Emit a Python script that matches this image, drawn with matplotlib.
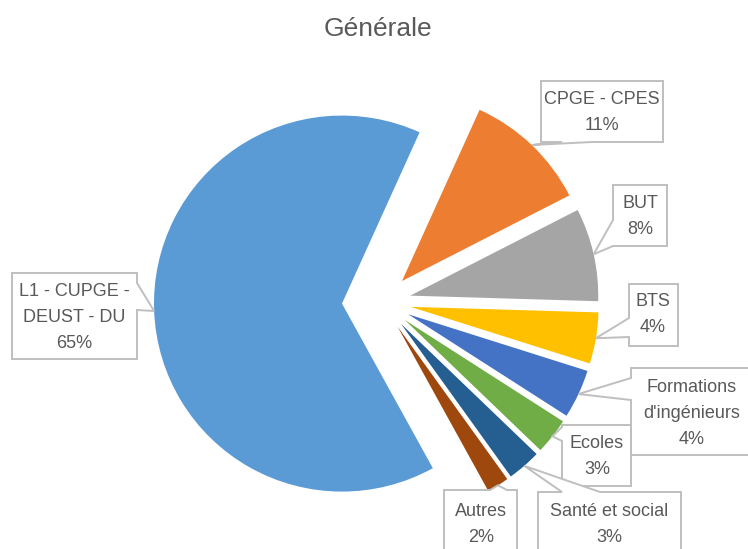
import numpy as np
import matplotlib
matplotlib.use("Agg")
import matplotlib.pyplot as plt
from matplotlib.patches import Polygon

plt.rcParams["font.family"] = ["Liberation Sans", "DejaVu Sans"]

# data (shares in %)
categories = ["L1 - CUPGE -\nDEUST - DU", "CPGE - CPES", "BUT", "BTS",
              "Formations\nd'ingénieurs", "Ecoles", "Santé et social", "Autres"]
values = [64.8, 10.7, 8.0, 4.4, 4.2, 3.1, 2.9, 1.9]
colors = ["#5B9BD5", "#ED7D31", "#A5A5A5", "#FFC000",
          "#4472C4", "#70AD47", "#255E91", "#9E480E"]
explode = [0.213, 0.154, 0.154, 0.154, 0.154, 0.154, 0.154, 0.154]  # fraction of radius

# callout layout in pixels (y down): box, pointer side, pointer base, text centre
layout = [
    ((12, 273, 137, 359), "right", (283, 310), (74, 317)),
    ((541, 81, 663, 142), "bottom", (562, 592), (602, 112)),
    ((613, 185, 667, 246), "left", (220, 246), (640, 217)),
    ((629, 284, 678, 346), "left", (318, 337), (653, 315)),
    ((631, 368, 760, 455), "left", (378, 400), (692, 413)),
    ((562, 425, 631, 486), "left", (427, 441), (597, 456)),
    ((538, 492, 681, 560), "top", (562, 600), (609, 524)),
    ((444, 490, 517, 560), "top", (490, 507), (481, 524)),
]

W, H = 748, 549
R = 188
TXT = "#595959"
EDGE = "#BFBFBF"


def callout(ax, box, side, base, tip):
    x0, y0, x1, y1 = box
    a, b = sorted(base)
    pts = [(x0, y0)]
    if side == "top":
        pts += [(a, y0), tip, (b, y0)]
    pts.append((x1, y0))
    if side == "right":
        pts += [(x1, a), tip, (x1, b)]
    pts.append((x1, y1))
    if side == "bottom":
        pts += [(b, y1), tip, (a, y1)]
    pts.append((x0, y1))
    if side == "left":
        pts += [(x0, b), tip, (x0, a)]
    ax.add_patch(Polygon(pts, closed=True, fc="white", ec=EDGE, lw=1.4, zorder=3))


fig = plt.figure(figsize=(W / 100, H / 100), dpi=100)
ax = fig.add_axes([0, 0, 1, 1])

wedges, _ = ax.pie(values, colors=colors, explode=[e * R for e in explode],
                   startangle=61.1, counterclock=True, center=(382, 302), radius=R,
                   wedgeprops=dict(linewidth=0))
ax.set_xlim(0, W)
ax.set_ylim(H, 0)
ax.set_aspect("equal")
ax.axis("off")

for w, cat, v, (box, side, base, (cx, cy)) in zip(wedges, categories, values, layout):
    mid = np.deg2rad((w.theta1 + w.theta2) / 2)
    tip = (w.center[0] + w.r * np.cos(mid), w.center[1] + w.r * np.sin(mid))
    callout(ax, box, side, base, tip)
    lines = cat.split("\n") + [f"{v:.0f}%"]
    n = len(lines)
    for k, line in enumerate(lines):
        ax.text(cx, cy + (k - (n - 1) / 2) * 26, line, ha="center", va="center",
                fontsize=13, color=TXT, zorder=4)

ax.text(378, 29, "Générale", ha="center", va="center", fontsize=19, color=TXT)

fig.savefig("out.png", dpi=100)
